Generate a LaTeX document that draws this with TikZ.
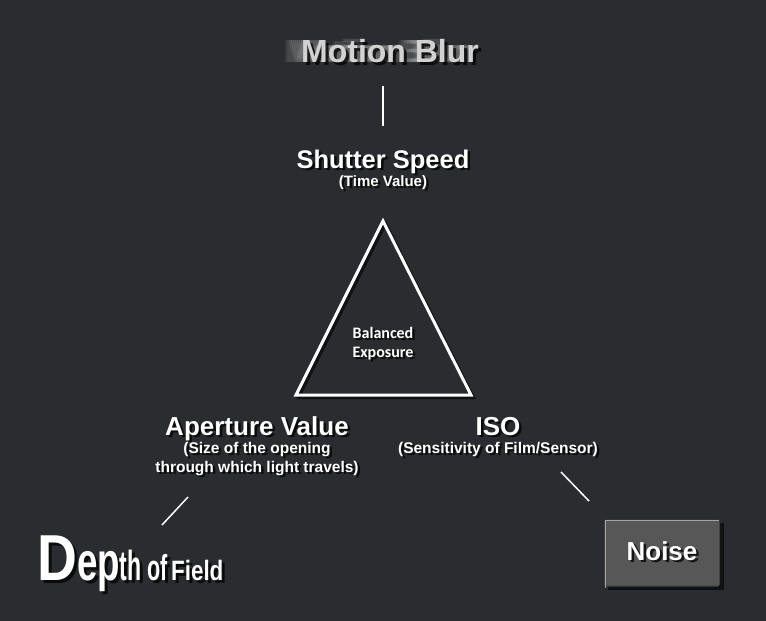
\documentclass[tikz,border=0pt]{standalone}
\usepackage{fontspec}
\setmainfont{Liberation Sans}
\newfontfamily\calibfont{Carlito}
\usetikzlibrary{calc}
\definecolor{bgdark}{HTML}{2A2C2F}
\definecolor{noisegray}{HTML}{575757}
\definecolor{blurgray}{HTML}{D2D2D2}
\newcommand\shlabel[4]{% name, position, font, text
  \node[dropshade,font=#3] at ($(#2)+(2.5,2.5)$) {#4};
  \node[whitetext,font=#3] (#1) at (#2) {#4};}
\newcommand\dofword[1]{\bfseries
  {\fontsize{65}{65}\selectfont\scalebox{0.85}[1]{D}}%
  {\fontsize{54}{54}\selectfont\scalebox{0.68}[1]{ep}}%
  {\fontsize{42}{42}\selectfont\scalebox{0.55}[1]{th}}\hspace{6pt}%
  {\fontsize{36}{36}\selectfont\scalebox{0.6}[1]{of}}\hspace{3pt}%
  {\color{#1}\fontsize{28}{28}\selectfont\scalebox{0.8}[1]{Field}}}
\begin{document}
\begin{tikzpicture}[x=1pt,y=-1pt]
\tikzset{
  whitetext/.style={text=white,inner sep=0pt,anchor=base,align=center},
  dropshade/.style={text=black,opacity=0.75,inner sep=0pt,anchor=base,align=center},
  tick/.style={white,line width=1.5pt},
  triline/.style={line width=3pt,line join=miter},
}
\fill [bgdark] (0,0) rectangle (766,621);
\useasboundingbox (0,0) rectangle (766,621);
% motion blur
\foreach \dx in {-18,-16,...,-2}
  \node[text=white,opacity=0.07,inner sep=0pt,anchor=base,xshift=\dx,
        font=\bfseries\fontsize{32}{32}\selectfont] at (390,62) {Motion Blur};
\node[dropshade,font=\bfseries\fontsize{32}{32}\selectfont] at (393,65) {Motion Blur};
\node[whitetext,text=blurgray,font=\bfseries\fontsize{32}{32}\selectfont] (blur) at (390,62) {Motion Blur};
\coordinate (blurEnd) at (383,86);
\coordinate (shutterEnd) at (383,126);
\draw [tick] (blurEnd) -- (shutterEnd);
% the three settings
\shlabel{shutter}{383,168}{\bfseries\fontsize{25.5}{28}\selectfont}{Shutter Speed}
\shlabel{timeval}{383,186}{\bfseries\fontsize{15}{18}\selectfont}{(Time Value)}
\shlabel{aperture}{257,435}{\bfseries\fontsize{26}{28}\selectfont}{Aperture Value}
\shlabel{sizeof}{257,472}{\bfseries\fontsize{15.5}{19}\selectfont}{(Size of the opening\\through which light travels)}
\shlabel{iso}{498,435}{\bfseries\fontsize{26}{28}\selectfont}{ISO}
\shlabel{sensitivity}{498,453}{\bfseries\fontsize{15.5}{19}\selectfont}{(Sensitivity of Film/Sensor)}
% triangle
\coordinate (apex) at (383,221);
\coordinate (baseL) at (296,395);
\coordinate (baseR) at (471,395);
\draw [triline,black,opacity=0.6] ($(apex)+(2.5,2.5)$) -- ($(baseR)+(2.5,2.5)$) -- ($(baseL)+(2.5,2.5)$) -- cycle;
\draw [triline,white] (apex) -- (baseR) -- (baseL) -- cycle;
\shlabel{balanced}{383,357}{\calibfont\bfseries\fontsize{16}{19}\selectfont}{Balanced\\Exposure}
% side effects
\coordinate (isoEnd) at (561,472);
\coordinate (noiseEnd) at (589,501);
\draw [tick] (isoEnd) -- (noiseEnd);
\coordinate (apertureEnd) at (188,497);
\coordinate (depthEnd) at (162,525);
\draw [tick] (apertureEnd) -- (depthEnd);
\fill [black,opacity=0.6] (608,523) rectangle (724,590);
\node[draw=black!75,line width=1pt,fill=noisegray,minimum width=115pt,minimum height=66pt,
      rounded corners=1.5pt] (noisebox) at (662,553) {};
\draw [white!45!noisegray,line width=1pt] ([xshift=1pt,yshift=-1pt]noisebox.south west)
  -- ([xshift=1pt,yshift=-1pt]noisebox.north west) -- ([xshift=-1pt,yshift=-1pt]noisebox.north east);
\shlabel{noise}{662,560}{\bfseries\fontsize{26}{28}\selectfont}{Noise}
\node[dropshade,anchor=base west] at (40,583) {\dofword{black}};
\node[whitetext,anchor=base west] (depth) at (37,580) {\dofword{white!70}};
\end{tikzpicture}
\end{document}
